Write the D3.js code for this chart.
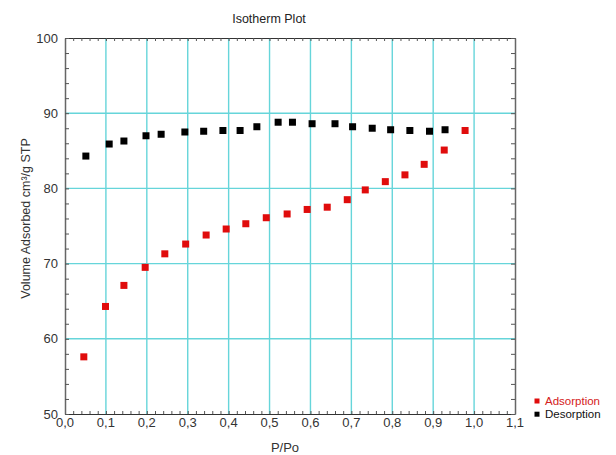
<!DOCTYPE html>
<html>
<head>
<meta charset="utf-8">
<script src="https://cdn.jsdelivr.net/npm/d3@7"></script>
<style>
  body { margin: 0; background: #fff; }
  svg { display: block; font-family: "Liberation Sans", Arial, sans-serif; }
</style>
</head>
<body>
<svg id="chart"></svg>
<script>
let width = 616, height = 455;

// data
var adsP = [0.046, 0.099, 0.144, 0.196, 0.244, 0.295, 0.345, 0.394, 0.442, 0.492,
            0.543, 0.592, 0.641, 0.690, 0.734, 0.783, 0.831, 0.878, 0.927, 0.978];
var adsV = [57.6, 64.3, 67.1, 69.5, 71.3, 72.6, 73.8, 74.6, 75.3, 76.1,
            76.6, 77.2, 77.5, 78.5, 79.8, 80.9, 81.8, 83.2, 85.1, 87.7];
var desP = [0.051, 0.108, 0.144, 0.198, 0.235, 0.293, 0.339, 0.386, 0.428, 0.469,
            0.521, 0.556, 0.604, 0.660, 0.703, 0.751, 0.796, 0.843, 0.891, 0.929];
var desV = [84.3, 85.9, 86.3, 87.0, 87.2, 87.5, 87.6, 87.7, 87.7, 88.2,
            88.8, 88.8, 88.6, 88.6, 88.2, 88.0, 87.8, 87.7, 87.6, 87.8];

var xTicks = [0, 0.1, 0.2, 0.3, 0.4, 0.5, 0.6, 0.7, 0.8, 0.9, 1.0, 1.1];
var yTicks = [50, 60, 70, 80, 90, 100];
var series = [
  { name: "Adsorption", color: "#e00c0c", text: "#d42020" },
  { name: "Desorption", color: "#000000", text: "#111111" }
];

var margin = { top: 38, right: 101, bottom: 41, left: 65 };

let svg = d3.select("#chart")
  .attr("width", width)
  .attr("height", height);

var x = d3.scaleLinear().domain([0, 1.1]).range([margin.left, width - margin.right]);
var y = d3.scaleLinear().domain([50, 100]).range([height - margin.bottom, margin.top]);

var xMinor = d3.range(0, 1.1001, 0.02);
var yMinor = d3.range(50, 100.001, 2);

// grid
svg.append("g")
  .selectAll("line")
  .data(xTicks.slice(1, -1))
  .join("line")
  .attr("x1", d => x(d)).attr("x2", d => x(d))
  .attr("y1", y(100)).attr("y2", y(50))
  .attr("stroke", "#66d5da")
  .attr("stroke-width", 1.4);

svg.append("g")
  .selectAll("line")
  .data(yTicks.slice(1, -1))
  .join("line")
  .attr("x1", x(0)).attr("x2", x(1.1))
  .attr("y1", d => y(d)).attr("y2", d => y(d))
  .attr("stroke", "#66d5da")
  .attr("stroke-width", 1.4);

// minor ticks on all four sides (pointing inward)
function frameTicks(g) {
  g.selectAll("path").attr("stroke", "#333");
  g.selectAll("line").attr("stroke", "#555");
}

svg.append("g")
  .attr("transform", `translate(0,${y(50)})`)
  .call(d3.axisBottom(x).tickValues(xMinor).tickSize(-3).tickSizeOuter(0).tickFormat(""))
  .call(frameTicks);

svg.append("g")
  .attr("transform", `translate(0,${y(100)})`)
  .call(d3.axisTop(x).tickValues(xMinor).tickSize(-3).tickSizeOuter(0).tickFormat(""))
  .call(frameTicks);

svg.append("g")
  .attr("transform", `translate(${x(0)},0)`)
  .call(d3.axisLeft(y).tickValues(yMinor).tickSize(-4).tickSizeOuter(0).tickFormat(""))
  .call(frameTicks)
  .call(g => g.select(".domain").attr("stroke", "#666").attr("stroke-width", 1.5));

svg.append("g")
  .attr("transform", `translate(${x(1.1)},0)`)
  .call(d3.axisRight(y).tickValues(yMinor).tickSize(-4).tickSizeOuter(0).tickFormat(""))
  .call(frameTicks)
  .call(g => g.select(".domain").attr("stroke", "#666").attr("stroke-width", 1.5));

// tick labels
var fmt = d3.format(".1f");
svg.append("g")
  .selectAll("text")
  .data(xTicks)
  .join("text")
  .attr("x", d => x(d))
  .attr("y", y(50) + 12.5)
  .attr("text-anchor", "middle")
  .attr("font-size", 13)
  .attr("fill", "#333")
  .text(d => fmt(d).replace(".", ","));

svg.append("g")
  .selectAll("text")
  .data(yTicks)
  .join("text")
  .attr("x", x(0) - 7)
  .attr("y", d => y(d))
  .attr("dy", "0.36em")
  .attr("text-anchor", "end")
  .attr("font-size", 13)
  .attr("fill", "#333")
  .text(d => d);

// titles
svg.append("text")
  .attr("x", 269)
  .attr("y", 23)
  .attr("text-anchor", "middle")
  .attr("font-size", 12.5)
  .attr("fill", "#222")
  .text("Isotherm Plot");

svg.append("text")
  .attr("x", 285)
  .attr("y", 452)
  .attr("text-anchor", "middle")
  .attr("font-size", 13)
  .attr("fill", "#333")
  .text("P/Po");

svg.append("text")
  .attr("transform", `translate(25,${y(76)}) rotate(-90)`)
  .attr("text-anchor", "middle")
  .attr("dy", "0.36em")
  .attr("font-size", 12.5)
  .attr("fill", "#333")
  .text("Volume Adsorbed cm³/g STP");

// points
var ms = 7;
svg.append("g")
  .selectAll("rect")
  .data(adsP.map((p, i) => [p, adsV[i]]))
  .join("rect")
  .attr("x", d => x(d[0]) - ms / 2)
  .attr("y", d => y(d[1]) - ms / 2)
  .attr("width", ms).attr("height", ms)
  .attr("fill", series[0].color);

svg.append("g")
  .selectAll("rect")
  .data(desP.map((p, i) => [p, desV[i]]))
  .join("rect")
  .attr("x", d => x(d[0]) - ms / 2)
  .attr("y", d => y(d[1]) - ms / 2)
  .attr("width", ms).attr("height", ms)
  .attr("fill", series[1].color);

// legend
var legend = svg.append("g")
  .selectAll("g")
  .data(series)
  .join("g")
  .attr("transform", (d, i) => `translate(537,${401 + i * 13.2})`);

legend.append("rect")
  .attr("x", -2.5).attr("y", -2.5)
  .attr("width", 5).attr("height", 5)
  .attr("fill", d => d.color);

legend.append("text")
  .attr("x", 8)
  .attr("dy", "0.36em")
  .attr("font-size", 11.5)
  .attr("fill", d => d.text)
  .text(d => d.name);
</script>
</body>
</html>
